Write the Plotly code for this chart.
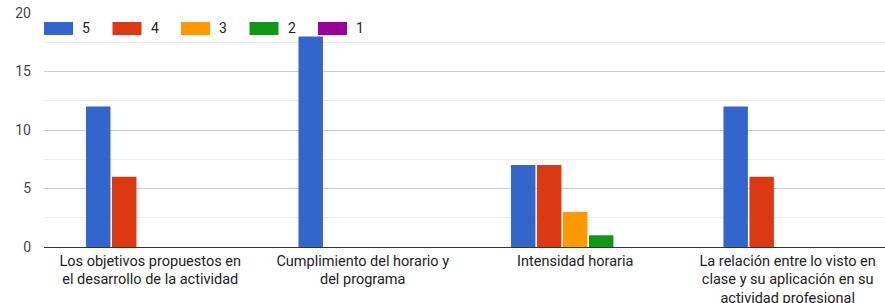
import plotly.graph_objects as go

categories = [
    "Los objetivos propuestos en<br>el desarrollo de la actividad",
    "Cumplimiento del horario y<br>del programa",
    "Intensidad horaria",
    "La relación entre lo visto en<br>clase y su aplicación en su<br>actividad profesional",
]
series_names = ["5", "4", "3", "2", "1"]
values_5 = [12, 18, 7, 12]
values_4 = [6, 0, 7, 6]
values_3 = [0, 0, 3, 0]
values_2 = [0, 0, 1, 0]
values_1 = [0, 0, 0, 0]
colors = ["#3366cc", "#dc3912", "#ff9900", "#109618", "#990099"]
y_ticks = [0, 5, 10, 15, 20]

all_values = [values_5, values_4, values_3, values_2, values_1]

W, H = 885, 303
ML, MR, MT, MB = 44, 0, 13, 56
PW, PH = W - ML - MR, H - MT - MB

fig = go.Figure()
for name, vals, col in zip(series_names, all_values, colors):
    fig.add_trace(go.Bar(
        x=list(range(len(categories))), y=vals, name=name,
        marker=dict(color=col, line=dict(width=0)),
        showlegend=False,
    ))

# custom legend (wide swatches like the reference)
def px_x(p):
    return (p - ML) / PW

def px_y(p):
    return (H - MB - p) / PH

leg_x0, leg_step, sw_w, sw_top, sw_bot, txt_gap = 44, 68.5, 29, 22, 35, 7
for i, (name, col) in enumerate(zip(series_names, colors)):
    x0 = leg_x0 + i * leg_step
    fig.add_shape(type="rect", xref="paper", yref="paper",
                  x0=px_x(x0), x1=px_x(x0 + sw_w), y0=px_y(sw_bot), y1=px_y(sw_top),
                  fillcolor=col, line=dict(width=0), layer="above")
    fig.add_annotation(xref="paper", yref="paper", x=px_x(x0 + sw_w + txt_gap),
                       y=px_y((sw_top + sw_bot) / 2), text=name, showarrow=False,
                       xanchor="left", yanchor="middle",
                       font=dict(size=14, color="#222222"))

fig.update_layout(
    width=W, height=H,
    margin=dict(l=ML, r=MR, t=MT, b=MB, autoexpand=False),
    paper_bgcolor="white", plot_bgcolor="white",
    font=dict(family="Roboto, Arial, sans-serif", size=14, color="#222222"),
    barmode="group", bargap=0.388, bargroupgap=0.06,
    xaxis=dict(
        tickmode="array", tickvals=list(range(len(categories))), ticktext=categories,
        range=[-0.5, 3.458], showgrid=False, zeroline=False, showline=False,
        ticks="", tickangle=0, automargin=False, ticklabelstandoff=3,
        tickfont=dict(size=14.5, color="#222222"),
    ),
    yaxis=dict(
        range=[0, 20], tickmode="array", tickvals=y_ticks,
        showgrid=True, gridcolor="#cccccc", gridwidth=1,
        minor=dict(dtick=2.5, showgrid=True, gridcolor="#ebebeb", gridwidth=1),
        zeroline=True, zerolinecolor="#333333", zerolinewidth=1,
        showline=False, ticks="", ticklabelstandoff=12, automargin=False,
        tickfont=dict(size=14, color="#444444"),
    ),
)

fig.write_html("out.html", config={"displayModeBar": False},
               post_script="document.body.style.margin='0';")
